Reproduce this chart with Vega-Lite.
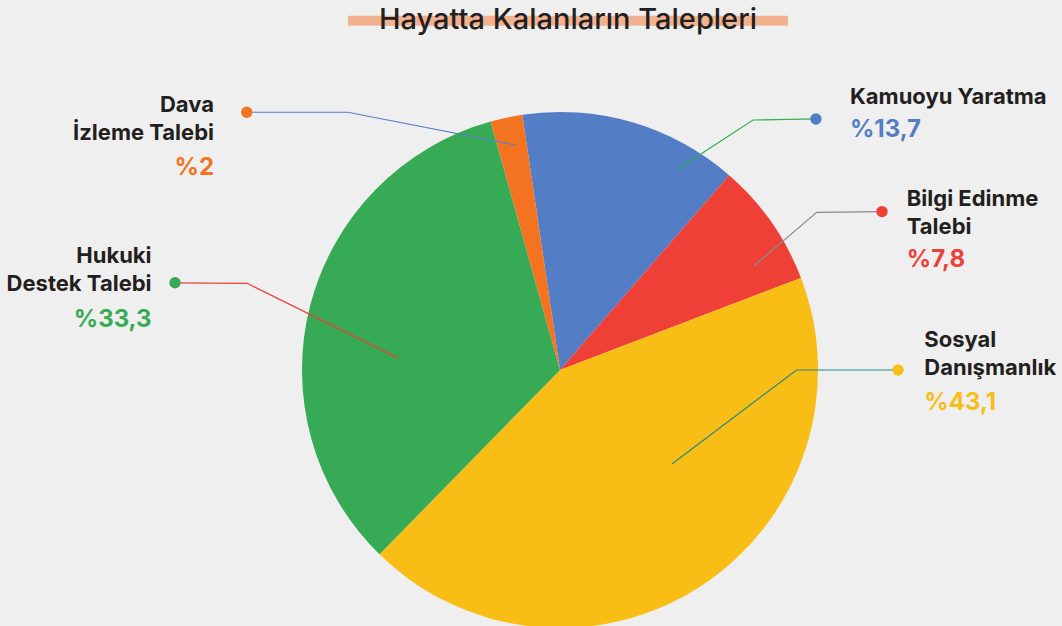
{
  "$schema": "https://vega.github.io/schema/vega-lite/v6.json",
  "width": 1062,
  "height": 626,
  "autosize": {"type": "none"},
  "padding": 0,
  "background": "#efefef",
  "config": {"view": {"stroke": null}, "font": "Inter"},
  "datasets": {
    "slices": [
      {"category": "Kamuoyu Yaratma", "value": 13.7, "order": 1},
      {"category": "Bilgi Edinme Talebi", "value": 7.8, "order": 2},
      {"category": "Sosyal Danışmanlık", "value": 43.1, "order": 3},
      {"category": "Hukuki Destek Talebi", "value": 33.3, "order": 4},
      {"category": "Dava İzleme Talebi", "value": 2, "order": 5}
    ],
    "leaders": [
      {"category": "Dava İzleme Talebi", "pt": 1, "X": -0.172, "Y": 0.872},
      {"category": "Dava İzleme Talebi", "pt": 2, "X": -0.822, "Y": 0.999},
      {"category": "Dava İzleme Talebi", "pt": 3, "X": -1.214, "Y": 0.999},
      {"category": "Kamuoyu Yaratma", "pt": 1, "X": 0.457, "Y": 0.779},
      {"category": "Kamuoyu Yaratma", "pt": 2, "X": 0.748, "Y": 0.969},
      {"category": "Kamuoyu Yaratma", "pt": 3, "X": 0.992, "Y": 0.973},
      {"category": "Bilgi Edinme Talebi", "pt": 1, "X": 0.752, "Y": 0.404},
      {"category": "Bilgi Edinme Talebi", "pt": 2, "X": 0.995, "Y": 0.611},
      {"category": "Bilgi Edinme Talebi", "pt": 3, "X": 1.248, "Y": 0.614},
      {"category": "Sosyal Danışmanlık", "pt": 1, "X": 0.434, "Y": -0.364},
      {"category": "Sosyal Danışmanlık", "pt": 2, "X": 0.917, "Y": 0.0},
      {"category": "Sosyal Danışmanlık", "pt": 3, "X": 1.31, "Y": 0.0},
      {"category": "Hukuki Destek Talebi", "pt": 1, "X": -0.628, "Y": 0.047},
      {"category": "Hukuki Destek Talebi", "pt": 2, "X": -1.213, "Y": 0.336},
      {"category": "Hukuki Destek Talebi", "pt": 3, "X": -1.492, "Y": 0.338}
    ],
    "labels": [
      {"category": "Dava İzleme Talebi", "side": "left", "name": "Dava\nİzleme Talebi", "pct": "%2", "X": -1.341, "nameY": 1.001, "pctY": 0.756},
      {"category": "Kamuoyu Yaratma", "side": "right", "name": "Kamuoyu Yaratma", "pct": "%13,7", "X": 1.124, "nameY": 1.031, "pctY": 0.903},
      {"category": "Bilgi Edinme Talebi", "side": "right", "name": "Bilgi Edinme\nTalebi", "pct": "%7,8", "X": 1.344, "nameY": 0.636, "pctY": 0.399},
      {"category": "Sosyal Danışmanlık", "side": "right", "name": "Sosyal\nDanışmanlık", "pct": "%43,1", "X": 1.412, "nameY": 0.09, "pctY": -0.155},
      {"category": "Hukuki Destek Talebi", "side": "left", "name": "Hukuki\nDestek Talebi", "pct": "%33,3", "X": -1.583, "nameY": 0.416, "pctY": 0.168}
    ],
    "title": [
      {"text": "Hayatta Kalanların Talepleri", "X": 0.031, "Y": 1.3236, "barX": -0.822, "barX2": 0.884, "barY": 1.373, "barY2": 1.334}
    ]
  },
  "layer": [
    {
      "data": {"name": "slices"},
      "mark": {"type": "arc", "outerRadius": 258, "stroke": null},
      "encoding": {
        "theta": {"field": "value", "type": "quantitative", "stack": true, "scale": {"range": [-0.1466, 6.1366]}},
        "order": {"field": "order", "type": "quantitative"},
        "color": {
          "field": "category", "type": "nominal", "legend": null,
          "scale": {
            "domain": ["Kamuoyu Yaratma", "Bilgi Edinme Talebi", "Sosyal Danışmanlık", "Hukuki Destek Talebi", "Dava İzleme Talebi"],
            "range": ["#537ec5", "#ee4036", "#f9be16", "#36aa54", "#f47321"]
          }
        },
        "x": {"datum": 0, "type": "quantitative", "scale": {"domain": [-2.1705, 1.9457], "nice": false, "zero": false}, "axis": null},
        "y": {"datum": 0, "type": "quantitative", "scale": {"domain": [-0.9922, 1.4341], "nice": false, "zero": false}, "axis": null}
      }
    },
    {
      "data": {"name": "leaders"},
      "mark": {"type": "line", "strokeWidth": 1.2},
      "encoding": {
        "x": {"field": "X", "type": "quantitative"},
        "y": {"field": "Y", "type": "quantitative"},
        "detail": {"field": "category"},
        "order": {"field": "pt", "type": "quantitative"},
        "stroke": {
          "field": "category", "type": "nominal", "legend": null,
          "scale": {
            "domain": ["Kamuoyu Yaratma", "Bilgi Edinme Talebi", "Sosyal Danışmanlık", "Hukuki Destek Talebi", "Dava İzleme Talebi"],
            "range": ["#2fae52", "#8c8c8c", "#1f8a86", "#ee4036", "#5a80c8"]
          }
        }
      }
    },
    {
      "data": {"name": "leaders"},
      "transform": [{"filter": "datum.pt == 3"}],
      "mark": {"type": "circle", "size": 130, "opacity": 1},
      "encoding": {
        "x": {"field": "X", "type": "quantitative"},
        "y": {"field": "Y", "type": "quantitative"},
        "color": {"field": "category", "type": "nominal", "legend": null}
      }
    },
    {
      "data": {"name": "labels"},
      "transform": [{"filter": "datum.side == 'right'"}],
      "mark": {"type": "text", "align": "left", "baseline": "alphabetic", "fontSize": 22, "fontWeight": "bold", "color": "#231f20", "lineBreak": "\n", "lineHeight": 28},
      "encoding": {
        "x": {"field": "X", "type": "quantitative"},
        "y": {"field": "nameY", "type": "quantitative"},
        "text": {"field": "name"}
      }
    },
    {
      "data": {"name": "labels"},
      "transform": [{"filter": "datum.side == 'left'"}],
      "mark": {"type": "text", "align": "right", "baseline": "alphabetic", "fontSize": 22, "fontWeight": "bold", "color": "#231f20", "lineBreak": "\n", "lineHeight": 28},
      "encoding": {
        "x": {"field": "X", "type": "quantitative"},
        "y": {"field": "nameY", "type": "quantitative"},
        "text": {"field": "name"}
      }
    },
    {
      "data": {"name": "labels"},
      "transform": [{"filter": "datum.side == 'right'"}],
      "mark": {"type": "text", "align": "left", "baseline": "alphabetic", "fontSize": 24, "fontWeight": "bold"},
      "encoding": {
        "x": {"field": "X", "type": "quantitative"},
        "y": {"field": "pctY", "type": "quantitative"},
        "text": {"field": "pct"},
        "color": {"field": "category", "type": "nominal", "legend": null}
      }
    },
    {
      "data": {"name": "labels"},
      "transform": [{"filter": "datum.side == 'left'"}],
      "mark": {"type": "text", "align": "right", "baseline": "alphabetic", "fontSize": 24, "fontWeight": "bold"},
      "encoding": {
        "x": {"field": "X", "type": "quantitative"},
        "y": {"field": "pctY", "type": "quantitative"},
        "text": {"field": "pct"},
        "color": {"field": "category", "type": "nominal", "legend": null}
      }
    },
    {
      "data": {"name": "title"},
      "mark": {"type": "rect", "color": "#f2b28f"},
      "encoding": {
        "x": {"field": "barX", "type": "quantitative"},
        "x2": {"field": "barX2"},
        "y": {"field": "barY", "type": "quantitative"},
        "y2": {"field": "barY2"}
      }
    },
    {
      "data": {"name": "title"},
      "mark": {"type": "text", "align": "center", "baseline": "alphabetic", "fontSize": 29, "fontWeight": 500, "color": "#231f20"},
      "encoding": {
        "x": {"field": "X", "type": "quantitative"},
        "y": {"field": "Y", "type": "quantitative"},
        "text": {"field": "text"}
      }
    }
  ],
  "resolve": {"scale": {"color": "shared", "stroke": "independent"}}
}
